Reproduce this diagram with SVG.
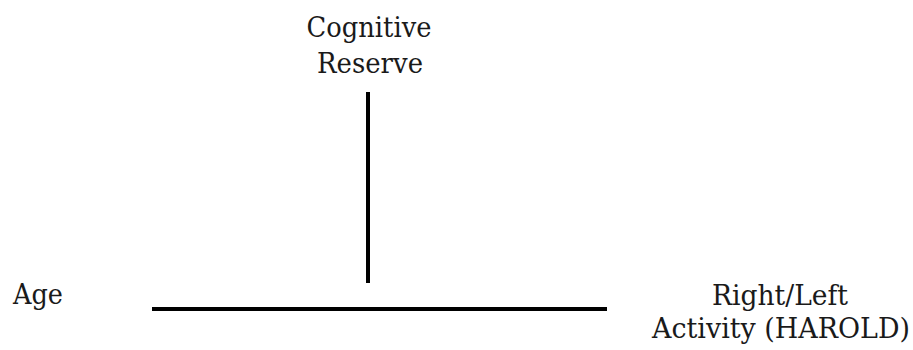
<svg xmlns="http://www.w3.org/2000/svg" width="913" height="350" viewBox="0 0 913 350">
<style>
.t{font-family:"DejaVu Serif","Liberation Serif",serif;font-size:27px;fill:#1a1a1a;text-anchor:middle}
.c{stroke:#000;stroke-width:4;fill:none}
</style>
<rect width="913" height="350" fill="#fff"/>
<g id="cognitive-reserve"><text class="t" x="369" y="37" textLength="125" lengthAdjust="spacingAndGlyphs">Cognitive</text><text class="t" x="370" y="73" textLength="106" lengthAdjust="spacingAndGlyphs">Reserve</text></g>
<g id="age"><text class="t" x="38" y="304" textLength="50" lengthAdjust="spacingAndGlyphs">Age</text></g>
<g id="harold"><text class="t" x="780" y="305" textLength="136" lengthAdjust="spacingAndGlyphs">Right/Left</text><text class="t" x="781" y="338" textLength="258" lengthAdjust="spacingAndGlyphs">Activity (HAROLD)</text></g>
<g id="connectors">
<line class="c" x1="368" y1="92" x2="368" y2="283"/>
<line class="c" x1="152" y1="309" x2="607" y2="309"/>
</g>
</svg>
